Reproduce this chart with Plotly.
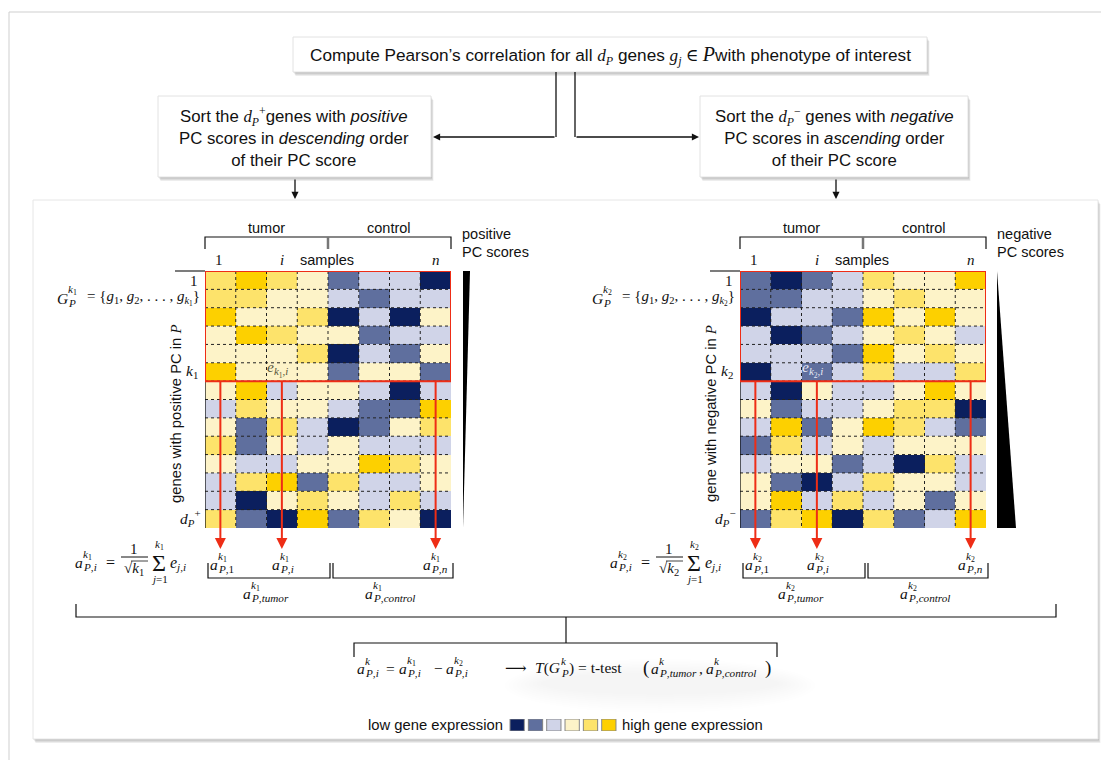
import plotly.graph_objects as go

W, H = 1109, 760
OFF = 8  # page body margin in the browser
SANS = "Liberation Sans, Arial, sans-serif"
SERIF = "Liberation Serif, DejaVu Serif, serif"
INK = "#111111"
RED = "#ee2d16"

# ---------------- data ----------------
levels = [0, 1, 2, 3, 4, 5]
level_colors = ["#0b1f5e", "#5f6f9e", "#d0d4e8", "#fdf3c8", "#fde36b", "#fdd000"]
legend_low = "low gene expression"
legend_high = "high gene expression"

expr_positive = [
    [4, 5, 4, 3, 1, 2, 2, 0],
    [4, 4, 3, 3, 2, 1, 2, 2],
    [5, 3, 3, 4, 0, 2, 0, 3],
    [3, 5, 4, 3, 3, 1, 2, 2],
    [3, 3, 3, 4, 0, 2, 1, 3],
    [5, 3, 3, 3, 1, 3, 3, 1],
    [3, 5, 2, 3, 3, 2, 0, 2],
    [2, 4, 3, 3, 2, 1, 1, 5],
    [3, 1, 4, 2, 0, 1, 3, 4],
    [4, 1, 3, 2, 3, 2, 2, 2],
    [3, 2, 2, 3, 3, 5, 4, 3],
    [2, 4, 5, 1, 4, 2, 2, 3],
    [2, 0, 3, 4, 3, 2, 4, 2],
    [4, 1, 0, 5, 1, 4, 3, 0],
]
expr_negative = [
    [1, 0, 1, 2, 4, 3, 3, 5],
    [1, 1, 2, 2, 3, 4, 3, 3],
    [0, 2, 2, 1, 5, 3, 5, 3],
    [2, 0, 1, 2, 3, 4, 3, 2],
    [2, 2, 2, 1, 5, 3, 4, 3],
    [0, 2, 1, 2, 4, 2, 2, 4],
    [2, 0, 3, 2, 2, 3, 5, 3],
    [3, 1, 2, 2, 3, 4, 4, 0],
    [2, 5, 1, 3, 5, 4, 2, 1],
    [1, 4, 2, 3, 2, 3, 3, 3],
    [2, 3, 3, 1, 2, 0, 4, 2],
    [3, 1, 0, 2, 4, 3, 3, 2],
    [3, 5, 2, 4, 2, 3, 1, 3],
    [1, 4, 5, 0, 4, 1, 2, 5],
]
top_k_rows = 6          # rows 1..k inside the red box
arrow_cols = [0, 2, 7]  # samples 1, i, n
arrow_labels = ["1", "i", "n"]

n_rows = len(expr_positive)
n_cols = len(expr_positive[0])

# ---------------- figure ----------------
fig = go.Figure()
fig.update_layout(
    width=W, height=H, margin=dict(l=0, r=0, t=0, b=0),
    paper_bgcolor="white", plot_bgcolor="rgba(0,0,0,0)", showlegend=False,
    xaxis=dict(range=[OFF, W + OFF], visible=False, domain=[0, 1], fixedrange=True),
    yaxis=dict(range=[H + OFF, OFF], visible=False, domain=[0, 1], fixedrange=True),
)


def dx_(px):
    return (px - OFF) / W


def dy_(py):
    return 1 - (py - OFF) / H


cs = []
nl = len(level_colors)
for k, c in enumerate(level_colors):
    cs.append([k / nl, c])
    cs.append([(k + 1) / nl, c])


def shape(**kw):
    kw.setdefault("xref", "x")
    kw.setdefault("yref", "y")
    fig.add_shape(**kw)


def line(x0, y0, x1, y1, color=INK, width=1.3, dash="solid", xref="x", yref="y"):
    shape(type="line", x0=x0, y0=y0, x1=x1, y1=y1, xref=xref, yref=yref,
          line=dict(color=color, width=width, dash=dash))


def txt(x, y, s, size=14.5, font=SANS, color=INK, xa="left", ya="middle", angle=0):
    fig.add_annotation(x=x, y=y, xref="x", yref="y", text=s, showarrow=False,
                       xanchor=xa, yanchor=ya, borderpad=0, borderwidth=0,
                       font=dict(family=font, size=size, color=color), textangle=angle)


def arrow(x0, y0, x1, y1, color=INK, width=1.3, xref="x", yref="y"):
    fig.add_annotation(x=x1, y=y1, ax=x0, ay=y0, xref=xref, yref=yref, axref=xref, ayref=yref,
                       text="", showarrow=True, arrowhead=2, arrowsize=1.1,
                       arrowwidth=width, arrowcolor=color, standoff=0, startstandoff=0)


def M(s):
    return f'<span style="font-family:{SERIF}">{s}</span>'


def stk(x, y, base, sup, sub, size=15.5, color=INK, bw=8, up=7, dn=5, small=0.72):
    txt(x, y, f"<i>{base}</i>", size, SERIF, color)
    txt(x + bw, y - up, sup, size * small, SERIF, color)
    txt(x + bw, y + dn, sub, size * small, SERIF, color)


def box(x0, y0, x1, y1, shadow=4, border="#e2e2e2"):
    for s in range(shadow, 0, -1):
        shape(type="rect", x0=x0 + s * 0.6, y0=y0 + s, x1=x1 + s * 0.6, y1=y1 + s,
              line=dict(width=0), fillcolor="rgba(0,0,0,0.07)", layer="below")
    shape(type="rect", x0=x0, y0=y0, x1=x1, y1=y1, line=dict(color=border, width=1),
          fillcolor="white", layer="below")


# outer frame
line(9, 12, W + OFF, 12, color="#cfcfcf", width=1)
line(9, 12, 9, H + OFF, color="#cfcfcf", width=1)

# ---------------- top flow ----------------
box(293, 37, 927, 72)
txt(610, 55, "Compute Pearson’s correlation for all " + M("<i>d</i><sub><i>P</i></sub>")
    + " genes " + M("<i>g</i><sub><i>j</i></sub> ∈ <span style='font-size:20px'><i>P</i></span>")
    + "with phenotype of interest", 17.2, SANS, xa="center")

box(158, 96, 431, 177)
txt(294, 137, "Sort the " + M("<i>d</i><sub><i>P</i></sub><sup>+</sup>") + "genes with <i>positive</i><br>"
    "PC scores in <i>descending</i> order<br>of their PC score", 16.8, SANS, xa="center")
box(700, 96, 968, 177)
txt(834, 137, "Sort the " + M("<i>d</i><sub><i>P</i></sub><sup>−</sup>") + " genes with <i>negative</i><br>"
    "PC scores in <i>ascending</i> order<br>of their PC score", 16.8, SANS, xa="center")

line(556, 72, 556, 137)
arrow(556, 137, 433, 137)
line(575, 72, 575, 137)
arrow(575, 137, 699, 137)
arrow(295, 178, 295, 199)
arrow(836, 178, 836, 199)

# big panel
box(33, 200, 1098, 739, shadow=4, border="#e6e6e6")

# ---------------- heatmap panels ----------------
panels = [
    dict(z=expr_positive, dx=0, ax="2", idx="1", sign="+", word="positive",
         ylab="genes with positive PC in ", ecol="#55553a"),
    dict(z=expr_negative, dx=535, ax="3", idx="2", sign="−", word="negative",
         ylab="gene with negative PC in ", ecol="#e6e8f4"),
]
HX0, HX1, HY0, HY1 = 205, 451, 271, 528

for p in panels:
    dx, a = p["dx"], p["ax"]
    xr, yr = "x" + a, "y" + a
    fig.update_layout(**{
        "xaxis" + a: dict(domain=[dx_(HX0 + dx), dx_(HX1 + dx)], range=[-0.5, n_cols - 0.5],
                          visible=False, anchor=yr, fixedrange=True),
        "yaxis" + a: dict(domain=[dy_(HY1), dy_(HY0)], range=[n_rows - 0.5, -0.5],
                          visible=False, anchor=xr, fixedrange=True),
    })
    fig.add_trace(go.Heatmap(z=p["z"], xaxis=xr, yaxis=yr, colorscale=cs, zmin=-0.5,
                             zmax=len(levels) - 0.5, showscale=False, hoverinfo="skip"))
    for c in range(1, n_cols):
        line(c - 0.5, -0.5, c - 0.5, n_rows - 0.5, color="#222", width=1, dash="dot", xref=xr, yref=yr)
    for r in range(1, n_rows):
        line(-0.5, r - 0.5, n_cols - 0.5, r - 0.5, color="#222", width=1, dash="dot", xref=xr, yref=yr)
    line(-0.5, -0.5, -0.5, n_rows - 0.5, color=INK, width=1.3, xref=xr, yref=yr)
    line(175 + dx, HY0, 205 + dx, HY0, width=1.1)
    line(-0.5, -2.1, -0.5, -0.5, color=INK, width=1, dash="dot", xref=xr, yref=yr)
    shape(type="rect", x0=-0.5, x1=n_cols - 0.5, y0=-0.5, y1=top_k_rows - 0.5, xref=xr, yref=yr,
          line=dict(color=RED, width=2))
    for c in arrow_cols:
        arrow(c, 380, c, 549, color=RED, width=2, xref=xr, yref="y")
    shape(type="path", path=f"M {205+dx},249 L {205+dx},237 L {451+dx},237 L {451+dx},249",
          line=dict(color=INK, width=1.2))
    line(328 + dx, 237, 328 + dx, 249, color="#777", width=2.5)
    txt(266 + dx, 228, "tumor", 14.5, xa="center")
    txt(389 + dx, 228, "control", 14.5, xa="center")
    txt(219 + dx, 260, "1", 15, SERIF, xa="center")
    txt(282 + dx, 260, "<i>i</i>", 15, SERIF, xa="center")
    txt(327 + dx, 260, "samples", 14.5, xa="center")
    txt(436 + dx, 260, "<i>n</i>", 15, SERIF, xa="center")
    txt(462 + dx, 234, p["word"], 14.5)
    txt(462 + dx, 252, "PC scores", 14.5)
    if p["sign"] == "+":
        path = f"M {463+dx},271 L {470+dx},271 L {463+dx},528 Z"
    else:
        path = f"M {462+dx},271 L {462+dx},528 L {481+dx},528 Z"
    shape(type="path", path=path, fillcolor="black", line=dict(width=0))
    idx = p["idx"]
    kk = f"<i>k</i><sub>{idx}</sub>"
    txt(194 + dx, 281, "1", 15, SERIF, xa="center")
    txt(192 + dx, 371, kk, 15.5, SERIF, xa="center")
    txt(190 + dx, 518, f"<i>d</i><sub><i>P</i></sub><sup>{p['sign']}</sup>", 15.5, SERIF, xa="center")
    stk(57 + dx, 298, "G", kk, "<i>P</i>", 15.5, bw=11, up=8)
    txt(87 + dx, 298, "= {<i>g</i><sub>1</sub>, <i>g</i><sub>2</sub>, . . . , <i>g</i><sub>" + kk + "</sub>}",
        15, SERIF)
    txt(176 + dx, 414, p["ylab"] + M("<i>P</i>"), 14.8, angle=-90, xa="center")
    txt(267 + dx, 369, f"<i>e</i><sub>{kk},<i>i</i></sub>", 15.5, SERIF, color=p["ecol"])
    for lab, xl in zip(arrow_labels, [210, 272, 423]):
        lab_s = lab if lab == "1" else f"<i>{lab}</i>"
        stk(xl + dx, 564, "a", kk, f"<i>P</i>,{lab_s}")
    shape(type="path", path=f"M {208+dx},563 L {208+dx},578 L {330+dx},578 L {330+dx},563",
          line=dict(color=INK, width=1.2))
    shape(type="path", path=f"M {333+dx},563 L {333+dx},578 L {453+dx},578 L {453+dx},563",
          line=dict(color=INK, width=1.2))
    stk(243 + dx, 593, "a", kk, "<i>P</i>,<i>tumor</i>")
    stk(365 + dx, 593, "a", kk, "<i>P</i>,<i>control</i>")
    # formula
    stk(75 + dx, 562, "a", kk, "<i>P</i>,<i>i</i>")
    txt(106 + dx, 562, "=", 16, SERIF)
    txt(134 + dx, 549, "1", 15, SERIF, xa="center")
    line(121 + dx, 557, 148 + dx, 557, width=1)
    txt(134 + dx, 569, "√" + kk, 15, SERIF, xa="center")
    line(131 + dx, 561, 148 + dx, 561, width=0.8)
    txt(159 + dx, 563, "Σ", 24, SERIF, xa="center")
    txt(159 + dx, 545, kk, 11, SERIF, xa="center")
    txt(159 + dx, 579, "<i>j</i>=1", 11, SERIF, xa="center")
    txt(170 + dx, 563, "<i>e</i><sub><i>j</i>,<i>i</i></sub>", 16, SERIF)

# ---------------- combination bracket ----------------
shape(type="path", path="M 76,604 L 76,617 L 1056,617 L 1056,604", line=dict(color=INK, width=1.2))
line(566, 617, 566, 643, width=1.2)
shape(type="path", path="M 354,657 L 354,643 L 777,643 L 777,657", line=dict(color=INK, width=1.2))

# very soft smudge behind the t-test
for k in range(10):
    shape(type="circle", x0=540 - k * 4, x1=780 + k * 4, y0=672 - k * 1.5, y1=695 + k * 2,
          fillcolor="rgba(0,0,0,0.0035)", line=dict(width=0), layer="below")

Y = 668
stk(357, Y, "a", "<i>k</i>", "<i>P</i>,<i>i</i>")
txt(386, Y, "=", 15.5, SERIF)
stk(399, Y, "a", "<i>k</i><sub>1</sub>", "<i>P</i>,<i>i</i>")
txt(434, Y, "−", 15.5, SERIF)
stk(446, Y, "a", "<i>k</i><sub>2</sub>", "<i>P</i>,<i>i</i>")
txt(516, Y, "⟶", 15, SERIF, xa="center")
txt(535, Y, "<i>T</i>(<i>G</i>", 15.5, SERIF)
txt(561, Y - 7, "<i>k</i>", 11, SERIF)
txt(561, Y + 5, "<i>P</i>", 11, SERIF)
txt(569, Y, ") = t-test", 15.5, SERIF)
txt(643, Y, "(", 19, SERIF)
stk(651, Y, "a", "<i>k</i>", "<i>P</i>,<i>tumor</i>")
txt(699, Y, ",", 15.5, SERIF)
stk(706, Y, "a", "<i>k</i>", "<i>P</i>,<i>control</i>")
txt(765, Y, ")", 19, SERIF)

# ---------------- legend ----------------
fig.update_layout(
    xaxis4=dict(domain=[dx_(508), dx_(618)], range=[-0.5, len(levels) - 0.5], visible=False,
                anchor="y4", fixedrange=True),
    yaxis4=dict(domain=[dy_(731), dy_(719)], range=[0.5, -0.5], visible=False,
                anchor="x4", fixedrange=True),
)
fig.add_trace(go.Heatmap(z=[levels], xaxis="x4", yaxis="y4", colorscale=cs, zmin=-0.5,
                         zmax=len(levels) - 0.5, showscale=False, hoverinfo="skip", xgap=4))
for v in levels:
    shape(type="rect", x0=v - 0.39, x1=v + 0.39, y0=-0.5, y1=0.5, xref="x4", yref="y4",
          line=dict(color="#888", width=1))
txt(503, 725, legend_low, 14.8, xa="right")
txt(622, 725, legend_high, 14.8)

fig.write_html("out.html")
